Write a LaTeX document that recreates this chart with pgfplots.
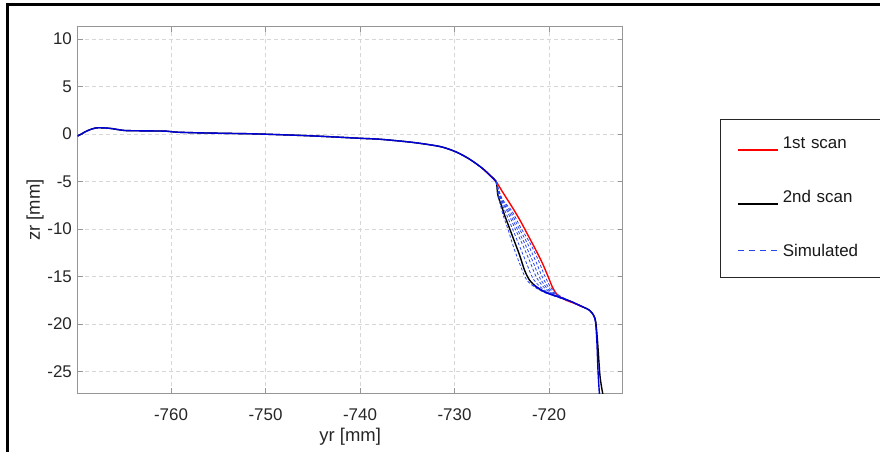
\documentclass[border=0pt]{standalone}
\usepackage{fontspec}
\setmainfont{Liberation Sans}
\usepackage{pgfplots}
\pgfplotsset{compat=1.18}
\definecolor{axgray}{RGB}{150,150,150}
\definecolor{gridgray}{RGB}{215,215,215}
\definecolor{simblue}{RGB}{40,70,235}
\pgfplotsset{
  leglow/.style={legend image code/.code={\draw[##1] (0bp,-5.6bp) -- (40bp,-5.6bp);}},
  legdash/.style={legend image code/.code={\draw[simblue, line width=1.4bp, dash pattern=on 6bp off 5bp] (0bp,1.9bp) -- (40bp,1.9bp);}},
}
\begin{document}
\fontsize{17}{20}\selectfont
\begin{tikzpicture}
\path[use as bounding box] (-77.7bp,-58.7bp) rectangle (802.3bp,393.3bp);
\begin{axis}[
  scale only axis, width=545bp, height=366.6bp,
  xmin=-769.87, xmax=-712.2, ymin=-27.3, ymax=11.3,
  xtick={-760,-750,-740,-730,-720}, xticklabels={-760,-750,-740,-730,-720},
  ytick={-25,-20,-15,-10,-5,0,5,10}, yticklabels={-25,-20,-15,-10,-5,0,5,10},
  grid=major, major grid style={gridgray, line width=0.8bp, dash pattern=on 4bp off 3bp},
  axis line style={axgray, line width=0.8bp},
  tick style={axgray, line width=0.8bp},
  tick align=inside, major tick length=5bp,
  tick label style={font=\fontsize{17}{20}\selectfont, text=black!85},
  xticklabel style={anchor=center, yshift=-21.7bp},
  xlabel={yr [mm]}, ylabel={zr [mm]},
  label style={font=\fontsize{18.5}{21}\selectfont, text=black!85},
  xlabel style={at={(axis description cs:0.5,-0.119)}, anchor=center},
  ylabel style={at={(axis description cs:-0.078,0.5)}, anchor=center},
  legend style={at={(axis description cs:1.1785,0.7482)}, anchor=north west,
    draw=black!85, line width=0.8bp, inner xsep=16.7bp, inner ysep=17bp,
    row sep=38bp, column sep=2.3bp,
    nodes={font=\fontsize{17}{20}\selectfont, text=black!90, inner xsep=2bp, inner ysep=0pt,
      text height=12bp, text depth=4bp, text width=80.3bp, align=left}},
  legend cell align=left,
]
% 2nd scan (black), full
\addplot[black, line width=1.4bp, smooth, tension=0.5, forget plot] coordinates {
(-769.87,-0.21) (-769.4,0.05) (-768.9,0.32) (-768.3,0.55) (-767.7,0.66) (-766.5,0.6)
(-765.5,0.45) (-764.7,0.36) (-762.5,0.33) (-760.5,0.3) (-759.5,0.2) (-756.9,0.12)
(-753,0.05) (-750.6,0) (-745,-0.2) (-740,-0.45) (-737.9,-0.55) (-734.7,-0.85)
(-732.5,-1.15) (-731.2,-1.4) (-729.8,-1.9) (-728.4,-2.65) (-727.0,-3.65) (-726.2,-4.4)
(-725.6,-5.0) (-725.41,-6.43) (-725.05,-7.48) (-724.70,-8.54) (-724.17,-9.94)
(-723.64,-11.35) (-723.11,-12.75) (-722.59,-14.33) (-722.06,-15.38) (-721.35,-16.09)
(-720.47,-16.62) (-719.23,-17.07) (-717.83,-17.57) (-716.43,-18.2) (-715.72,-18.55)
(-715.29,-19.07) (-715.05,-19.8) (-714.85,-22.0) (-714.6,-25.5) (-714.3,-27.4)
};
% 1st scan (red), diverging part
\addplot[red, line width=1.4bp, smooth, tension=0.5, leglow] coordinates {
(-727.0,-3.65) (-726.2,-4.4) (-725.6,-5.0) (-725.1,-5.8) (-724.5,-6.75) (-723.8,-7.85)
(-723.0,-9.2) (-722.2,-10.7) (-721.4,-12.2) (-720.7,-13.6) (-720.1,-15.0)
(-719.6,-16.2) (-719.1,-16.95) (-718.2,-17.5) (-717.5,-17.75) (-716.43,-18.2)
};
\addlegendentry{1st scan}
\addlegendimage{black, line width=1.4bp, leglow}
\addlegendentry{2nd scan}
% simulated intermediate profiles (dashed)
\addplot[simblue, line width=0.8bp, dash pattern=on 3bp off 2bp, smooth, tension=0.5, legdash] coordinates {
(-725.6,-5.0) (-725.25,-7.03) (-724.84,-8.58) (-724.30,-10.15) (-723.77,-11.85)
(-723.10,-13.65) (-722.29,-15.46) (-720.68,-16.6) (-717.8,-17.6)
};
\addlegendentry{Simulated}
\addplot[simblue, line width=0.8bp, dash pattern=on 3bp off 2bp, smooth, tension=0.5, forget plot] coordinates {
(-725.6,-5.0) (-725.14,-6.96) (-724.52,-8.40) (-723.84,-10.04) (-723.14,-11.74)
(-722.40,-13.54) (-721.62,-15.32) (-720.26,-16.6) (-717.8,-17.6)
};
\addplot[simblue, line width=0.8bp, dash pattern=on 3bp off 2bp, smooth, tension=0.5, forget plot] coordinates {
(-725.6,-5.0) (-725.08,-6.92) (-724.34,-8.30) (-723.58,-9.98) (-722.78,-11.68)
(-722.00,-13.48) (-721.24,-15.24) (-720.02,-16.6) (-717.8,-17.6)
};
\addplot[simblue, line width=0.8bp, dash pattern=on 3bp off 2bp, smooth, tension=0.5, forget plot] coordinates {
(-725.6,-5.0) (-725.04,-6.89) (-724.21,-8.23) (-723.39,-9.94) (-722.51,-11.64)
(-721.70,-13.44) (-720.96,-15.18) (-719.84,-16.6) (-717.8,-17.6)
};
\addplot[simblue, line width=0.8bp, dash pattern=on 3bp off 2bp, smooth, tension=0.5, forget plot] coordinates {
(-725.6,-5.0) (-724.99,-6.86) (-724.07,-8.15) (-723.19,-9.89) (-722.24,-11.59)
(-721.40,-13.39) (-720.67,-15.12) (-719.66,-16.6) (-717.8,-17.6)
};
\addplot[simblue, line width=0.8bp, dash pattern=on 3bp off 2bp, smooth, tension=0.5, forget plot] coordinates {
(-725.6,-5.0) (-724.95,-6.83) (-723.94,-8.08) (-723.00,-9.85) (-721.97,-11.55)
(-721.10,-13.35) (-720.39,-15.06) (-719.48,-16.6) (-717.8,-17.6)
};
% simulated final profile (solid blue)
\addplot[blue!85!black, line width=1.4bp, smooth, tension=0.5, forget plot] coordinates {
(-769.87,-0.21) (-769.4,0.05) (-768.9,0.32) (-768.3,0.55) (-767.7,0.66) (-766.5,0.6)
(-765.5,0.45) (-764.7,0.36) (-762.5,0.33) (-760.5,0.3) (-759.5,0.2) (-756.9,0.12)
(-753,0.05) (-750.6,0) (-745,-0.2) (-740,-0.45) (-737.9,-0.55) (-734.7,-0.85)
(-732.5,-1.15) (-731.2,-1.4) (-729.8,-1.9) (-728.4,-2.65) (-727.0,-3.65) (-726.2,-4.4)
(-725.6,-5.0)
};
\addplot[blue!85!black, line width=1.4bp, smooth, tension=0.5, forget plot] coordinates {
(-721.6,-15.9) (-720.47,-16.62) (-719.23,-17.07) (-717.83,-17.57) (-716.43,-18.2)
(-715.72,-18.55) (-715.29,-19.07) (-715.08,-19.78) (-714.94,-21.71) (-714.80,-25.22)
(-714.66,-27.4)
};
\end{axis}
\draw[line width=3bp, black] (-70.2bp,-60bp) -- (-70.2bp,388.3bp) -- (805bp,388.3bp);
\end{tikzpicture}
\end{document}
